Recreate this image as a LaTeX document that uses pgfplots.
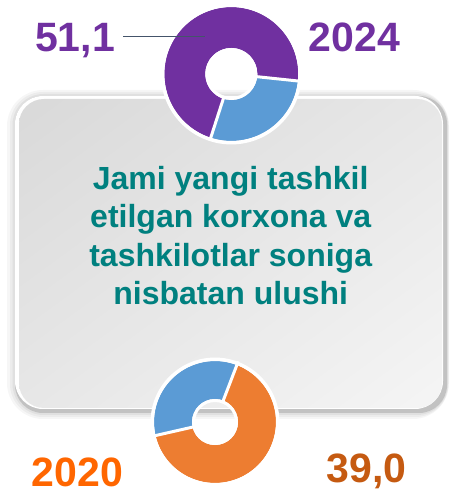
\documentclass[border=0pt]{standalone}
\usepackage{pgfplots}
\pgfplotsset{compat=1.18}
\usetikzlibrary{shadings}
\usepackage{fontspec}
\setmainfont{Liberation Sans}
\definecolor{cpurple}{HTML}{7030A0}
\definecolor{cblue}{HTML}{5B9BD5}
\definecolor{corange}{HTML}{ED7D31}
\definecolor{cteal}{HTML}{00807F}
\definecolor{corangeB}{HTML}{FF6600}
\definecolor{cbrown}{HTML}{C55A11}
\definecolor{cline}{HTML}{44546A}
\definecolor{cboxA}{HTML}{D9D9D9}
\definecolor{cboxB}{HTML}{F5F5F5}
\definecolor{cboxM}{HTML}{E7E7E7}
\definecolor{cedge}{HTML}{C2C2C2}

% ring shares (percent) as drawn in the picture
\def\TopStart{-6}   \def\TopPurple{71.7} \def\TopBlue{28.3}
\def\BotStart{69}   \def\BotBlue{34.4}   \def\BotOrange{65.6}
\pgfmathsetmacro\TopMid{\TopStart+3.6*\TopPurple}
\pgfmathsetmacro\TopEnd{\TopMid+3.6*\TopBlue}
\pgfmathsetmacro\BotMid{\BotStart+3.6*\BotBlue}
\pgfmathsetmacro\BotEnd{\BotMid+3.6*\BotOrange}

\begin{document}
\begin{tikzpicture}
\begin{axis}[
  scale only axis, width=451pt, height=489pt,
  xmin=0, xmax=451, ymin=0, ymax=489,
  hide axis, clip=false,
  at={(0pt,0pt)}, anchor=south west,
]
% --- rounded box with soft shadow
\fill[black, opacity=0.035, rounded corners=36] (7,70) rectangle (449,399);
\fill[black, opacity=0.04, rounded corners=33] (10,72) rectangle (448.5,397);
\fill[black, opacity=0.05, rounded corners=31] (12.5,74) rectangle (448,395);
\fill[cedge, rounded corners=28] (15,76) rectangle (447,393);
\fill[white, rounded corners=28] (15,80) rectangle (443,393);
\shade[rounded corners=25, upper left=cboxA, upper right=cboxM, lower left=cboxM, lower right=cboxB] (19,81) rectangle (442,390);

% --- 2024 ring
\addplot[cpurple, line width=41pt, domain=\TopStart:\TopMid, samples=150] ({231.3+46.5*cos(x)},{415+46.5*sin(x)});
\addplot[cblue, line width=41pt, domain=\TopMid:\TopEnd, samples=80] ({231.3+46.5*cos(x)},{415+46.5*sin(x)});
\draw[white, line width=3.5pt] (axis cs:231.3,415) circle[radius=68.7];
\draw[white, line width=3pt] (axis cs:231.3,415) circle[radius=24.5];
\draw[white, line width=3pt] (axis cs:231.3,415) ++(\TopStart:23) -- ++(\TopStart:47);
\draw[white, line width=3pt] (axis cs:231.3,415) ++(\TopMid:23) -- ++(\TopMid:47);

% --- 2020 ring
\addplot[cblue, line width=38pt, domain=\BotStart:\BotMid, samples=80] ({215+42*cos(x)},{67+42*sin(x)});
\addplot[corange, line width=38pt, domain=\BotMid:\BotEnd, samples=150] ({215+42*cos(x)},{67+42*sin(x)});
\draw[white, line width=3.5pt] (axis cs:215,67) circle[radius=62.7];
\draw[white, line width=3pt] (axis cs:215,67) circle[radius=21.5];
\draw[white, line width=3pt] (axis cs:215,67) ++(\BotStart:20) -- ++(\BotStart:45);
\draw[white, line width=3pt] (axis cs:215,67) ++(\BotMid:20) -- ++(\BotMid:45);

% --- leader line
\draw[cline, line width=1.6pt] (axis cs:123,452.3) -- (axis cs:205,452.3);

% --- labels
\node[anchor=base west, inner sep=0, text=cpurple, font=\bfseries\fontsize{41}{48}\selectfont] at (axis cs:35,437) {51,1};
\node[anchor=base west, inner sep=0, text=cpurple, font=\bfseries\fontsize{41}{48}\selectfont] at (axis cs:308.5,437) {2024};
\node[anchor=base west, inner sep=0, text=corangeB, font=\bfseries\fontsize{41}{48}\selectfont] at (axis cs:31.5,2.5) {2020};
\node[anchor=base west, inner sep=0, text=cbrown, font=\bfseries\fontsize{41}{48}\selectfont] at (axis cs:326.5,6.5) {39,0};

% --- title
\node[anchor=base, inner sep=0, text=cteal, font=\bfseries\fontsize{32}{38}\selectfont] at (axis cs:230.7,299) {Jami yangi tashkil};
\node[anchor=base, inner sep=0, text=cteal, font=\bfseries\fontsize{32}{38}\selectfont] at (axis cs:230.7,261) {etilgan korxona va};
\node[anchor=base, inner sep=0, text=cteal, font=\bfseries\fontsize{32}{38}\selectfont] at (axis cs:230.7,222) {tashkilotlar soniga};
\node[anchor=base, inner sep=0, text=cteal, font=\bfseries\fontsize{32}{38}\selectfont] at (axis cs:230.7,184) {nisbatan ulushi};
\end{axis}
\pgfresetboundingbox
\useasboundingbox (0pt,0pt) rectangle (451pt,489pt);
\end{tikzpicture}
\end{document}
